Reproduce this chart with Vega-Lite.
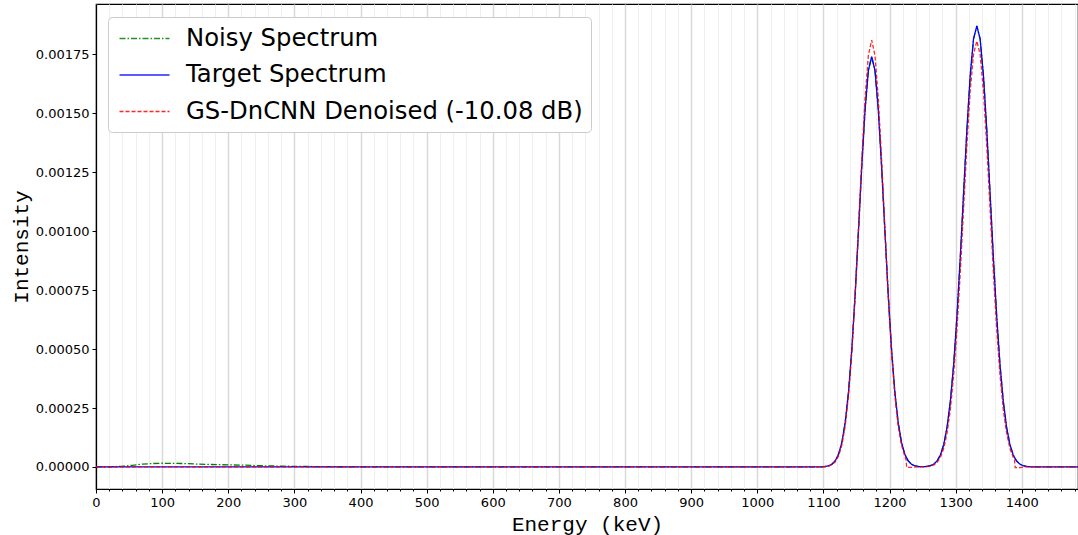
{
  "$schema": "https://vega.github.io/schema/vega-lite/v6.json",
  "width": 982,
  "height": 485,
  "autosize": "none",
  "padding": {"left": 96, "top": 4, "right": 0, "bottom": 46},
  "background": "#ffffff",
  "datasets": {
    "noisy": [
      {"E": 0, "I": 0}, {"E": 20, "I": 0.0000005}, {"E": 40, "I": 0.000003}, {"E": 55, "I": 0.000007},
      {"E": 70, "I": 0.000012}, {"E": 85, "I": 0.0000145}, {"E": 100, "I": 0.0000158}, {"E": 115, "I": 0.0000152},
      {"E": 130, "I": 0.0000148}, {"E": 150, "I": 0.0000125}, {"E": 175, "I": 0.0000105}, {"E": 200, "I": 0.0000088},
      {"E": 225, "I": 0.0000075}, {"E": 250, "I": 0.0000052}, {"E": 275, "I": 0.0000038}, {"E": 300, "I": 0.0000026},
      {"E": 350, "I": 0.0000012}, {"E": 400, "I": 0.0000005}, {"E": 500, "I": 0}, {"E": 1088, "I": 0},
      {"E": 1093, "I": 0.0000002}, {"E": 1098, "I": 0.0000007}, {"E": 1103, "I": 0.000002}, {"E": 1108, "I": 0.000005},
      {"E": 1113, "I": 0.0000119}, {"E": 1118, "I": 0.0000264}, {"E": 1123, "I": 0.0000545}, {"E": 1128, "I": 0.000105},
      {"E": 1133, "I": 0.00019}, {"E": 1138, "I": 0.000319}, {"E": 1143, "I": 0.0005}, {"E": 1148, "I": 0.000732},
      {"E": 1153, "I": 0.001}, {"E": 1158, "I": 0.001274}, {"E": 1163, "I": 0.001515}, {"E": 1168, "I": 0.001681},
      {"E": 1173, "I": 0.00174}, {"E": 1178, "I": 0.001681}, {"E": 1183, "I": 0.001515}, {"E": 1188, "I": 0.001274},
      {"E": 1193, "I": 0.001}, {"E": 1198, "I": 0.000732}, {"E": 1203, "I": 0.0005}, {"E": 1208, "I": 0.000319},
      {"E": 1213, "I": 0.00019}, {"E": 1218, "I": 0.000105}, {"E": 1223, "I": 0.0000545}, {"E": 1228, "I": 0.0000264},
      {"E": 1233, "I": 0.0000119}, {"E": 1238, "I": 0.000005}, {"E": 1243, "I": 0.000002}, {"E": 1248, "I": 0.0000012},
      {"E": 1252, "I": 0.0000011}, {"E": 1257, "I": 0.0000023}, {"E": 1262, "I": 0.0000055}, {"E": 1267, "I": 0.0000123},
      {"E": 1272, "I": 0.0000258}, {"E": 1277, "I": 0.0000511}, {"E": 1282, "I": 0.0000955}, {"E": 1287, "I": 0.000168},
      {"E": 1292, "I": 0.000279}, {"E": 1297, "I": 0.000435}, {"E": 1302, "I": 0.000641}, {"E": 1307, "I": 0.000889},
      {"E": 1312, "I": 0.001162}, {"E": 1317, "I": 0.001431}, {"E": 1322, "I": 0.00166}, {"E": 1327, "I": 0.001815},
      {"E": 1332, "I": 0.00187}, {"E": 1337, "I": 0.001815}, {"E": 1342, "I": 0.00166}, {"E": 1347, "I": 0.001431},
      {"E": 1352, "I": 0.001162}, {"E": 1357, "I": 0.000889}, {"E": 1362, "I": 0.000641}, {"E": 1367, "I": 0.000435},
      {"E": 1372, "I": 0.000279}, {"E": 1377, "I": 0.000168}, {"E": 1382, "I": 0.0000955}, {"E": 1387, "I": 0.0000511},
      {"E": 1392, "I": 0.0000258}, {"E": 1397, "I": 0.0000123}, {"E": 1402, "I": 0.0000055}, {"E": 1407, "I": 0.0000023},
      {"E": 1412, "I": 0.0000009}, {"E": 1420, "I": 0}, {"E": 1485, "I": 0}
    ],
    "target": [
      {"E": 0, "I": 0}, {"E": 500, "I": 0}, {"E": 1088, "I": 0},
      {"E": 1093, "I": 0.0000002}, {"E": 1098, "I": 0.0000007}, {"E": 1103, "I": 0.000002}, {"E": 1108, "I": 0.000005},
      {"E": 1113, "I": 0.0000119}, {"E": 1118, "I": 0.0000264}, {"E": 1123, "I": 0.0000545}, {"E": 1128, "I": 0.000105},
      {"E": 1133, "I": 0.00019}, {"E": 1138, "I": 0.000319}, {"E": 1143, "I": 0.0005}, {"E": 1148, "I": 0.000732},
      {"E": 1153, "I": 0.001}, {"E": 1158, "I": 0.001274}, {"E": 1163, "I": 0.001515}, {"E": 1168, "I": 0.001681},
      {"E": 1173, "I": 0.00174}, {"E": 1178, "I": 0.001681}, {"E": 1183, "I": 0.001515}, {"E": 1188, "I": 0.001274},
      {"E": 1193, "I": 0.001}, {"E": 1198, "I": 0.000732}, {"E": 1203, "I": 0.0005}, {"E": 1208, "I": 0.000319},
      {"E": 1213, "I": 0.00019}, {"E": 1218, "I": 0.000105}, {"E": 1223, "I": 0.0000545}, {"E": 1228, "I": 0.0000264},
      {"E": 1233, "I": 0.0000119}, {"E": 1238, "I": 0.000005}, {"E": 1243, "I": 0.000002}, {"E": 1248, "I": 0.0000012},
      {"E": 1252, "I": 0.0000011}, {"E": 1257, "I": 0.0000023}, {"E": 1262, "I": 0.0000055}, {"E": 1267, "I": 0.0000123},
      {"E": 1272, "I": 0.0000258}, {"E": 1277, "I": 0.0000511}, {"E": 1282, "I": 0.0000955}, {"E": 1287, "I": 0.000168},
      {"E": 1292, "I": 0.000279}, {"E": 1297, "I": 0.000435}, {"E": 1302, "I": 0.000641}, {"E": 1307, "I": 0.000889},
      {"E": 1312, "I": 0.001162}, {"E": 1317, "I": 0.001431}, {"E": 1322, "I": 0.00166}, {"E": 1327, "I": 0.001815},
      {"E": 1332, "I": 0.00187}, {"E": 1337, "I": 0.001815}, {"E": 1342, "I": 0.00166}, {"E": 1347, "I": 0.001431},
      {"E": 1352, "I": 0.001162}, {"E": 1357, "I": 0.000889}, {"E": 1362, "I": 0.000641}, {"E": 1367, "I": 0.000435},
      {"E": 1372, "I": 0.000279}, {"E": 1377, "I": 0.000168}, {"E": 1382, "I": 0.0000955}, {"E": 1387, "I": 0.0000511},
      {"E": 1392, "I": 0.0000258}, {"E": 1397, "I": 0.0000123}, {"E": 1402, "I": 0.0000055}, {"E": 1407, "I": 0.0000023},
      {"E": 1412, "I": 0.0000009}, {"E": 1420, "I": 0}, {"E": 1485, "I": 0}
    ],
    "denoised": [
      {"E": 0, "I": 0}, {"E": 500, "I": 0}, {"E": 1090, "I": 0},
      {"E": 1098, "I": 0.000001}, {"E": 1108, "I": 0.000004}, {"E": 1113, "I": 0.00001}, {"E": 1118, "I": 0.000022},
      {"E": 1123, "I": 0.000047}, {"E": 1128, "I": 0.000094}, {"E": 1133, "I": 0.000175}, {"E": 1138, "I": 0.000302},
      {"E": 1143, "I": 0.000486}, {"E": 1148, "I": 0.000726}, {"E": 1153, "I": 0.001009}, {"E": 1158, "I": 0.001303},
      {"E": 1163, "I": 0.001564}, {"E": 1168, "I": 0.001745}, {"E": 1173, "I": 0.00181}, {"E": 1178, "I": 0.001745},
      {"E": 1183, "I": 0.001564}, {"E": 1188, "I": 0.001303}, {"E": 1193, "I": 0.001009}, {"E": 1198, "I": 0.000726},
      {"E": 1203, "I": 0.000486}, {"E": 1208, "I": 0.000302}, {"E": 1213, "I": 0.000175}, {"E": 1218, "I": 0.000094},
      {"E": 1223, "I": 0.000047}, {"E": 1225, "I": 0.00003}, {"E": 1226, "I": -0.000002}, {"E": 1233, "I": -0.000002},
      {"E": 1240, "I": 0}, {"E": 1255, "I": 0.000001}, {"E": 1262, "I": 0.000004}, {"E": 1267, "I": 0.0000092},
      {"E": 1272, "I": 0.0000201}, {"E": 1277, "I": 0.0000412}, {"E": 1282, "I": 0.0000793}, {"E": 1287, "I": 0.000144},
      {"E": 1292, "I": 0.000244}, {"E": 1297, "I": 0.000391}, {"E": 1302, "I": 0.000586}, {"E": 1307, "I": 0.000827},
      {"E": 1312, "I": 0.001095}, {"E": 1317, "I": 0.001363}, {"E": 1322, "I": 0.001594}, {"E": 1327, "I": 0.00175},
      {"E": 1332, "I": 0.001806}, {"E": 1337, "I": 0.00175}, {"E": 1342, "I": 0.001594}, {"E": 1347, "I": 0.001363},
      {"E": 1352, "I": 0.001095}, {"E": 1357, "I": 0.000827}, {"E": 1362, "I": 0.000586}, {"E": 1367, "I": 0.000391},
      {"E": 1372, "I": 0.000244}, {"E": 1377, "I": 0.000144}, {"E": 1382, "I": 0.0000793}, {"E": 1387, "I": 0.0000412},
      {"E": 1389, "I": 0.00003}, {"E": 1390, "I": -0.000003}, {"E": 1398, "I": -0.000003}, {"E": 1402, "I": 0},
      {"E": 1485, "I": 0}
    ]
  },
  "encoding": {
    "x": {
      "field": "E",
      "type": "quantitative",
      "scale": {"domain": [0, 1485], "nice": false, "zero": false},
      "axis": {
        "title": "Energy (keV)",
        "values": [0, 20, 40, 60, 80, 100, 120, 140, 160, 180, 200, 220, 240, 260, 280, 300, 320, 340, 360, 380, 400, 420, 440, 460, 480, 500, 520, 540, 560, 580, 600, 620, 640, 660, 680, 700, 720, 740, 760, 780, 800, 820, 840, 860, 880, 900, 920, 940, 960, 980, 1000, 1020, 1040, 1060, 1080, 1100, 1120, 1140, 1160, 1180, 1200, 1220, 1240, 1260, 1280, 1300, 1320, 1340, 1360, 1380, 1400, 1420, 1440, 1460, 1480],
        "format": "d",
        "labelExpr": "datum.value % 100 === 0 ? datum.label : ''",
        "labelOverlap": false,
        "labelFlush": false,
        "grid": true,
        "gridColor": {"condition": {"test": "datum.value % 100 === 0", "value": "#d9d9d9"}, "value": "#efefef"},
        "gridWidth": {"condition": {"test": "datum.value % 100 === 0", "value": 1.5}, "value": 1},
        "tickSize": {"condition": {"test": "datum.value % 100 === 0", "value": 4}, "value": 2},
        "labelPadding": 3,
        "titlePadding": 4
      }
    },
    "y": {
      "field": "I",
      "type": "quantitative",
      "scale": {"domain": [-0.0000934, 0.001963], "nice": false, "zero": false},
      "axis": {
        "title": "Intensity",
        "values": [0, 0.00025, 0.0005, 0.00075, 0.001, 0.00125, 0.0015, 0.00175],
        "format": ".5f",
        "grid": false,
        "tickSize": 4,
        "labelPadding": 3,
        "titlePadding": 4
      }
    }
  },
  "layer": [
    {
      "data": {"name": "noisy"},
      "mark": {"type": "line", "strokeWidth": 1.3, "clip": true},
      "encoding": {
        "color": {
          "datum": "Noisy Spectrum",
          "type": "nominal",
          "scale": {"domain": ["Noisy Spectrum", "Target Spectrum", "GS-DnCNN Denoised (-10.08 dB)"], "range": ["#008000", "#0000ff", "#ff0000"]},
          "legend": {"title": null}
        },
        "strokeDash": {
          "datum": "Noisy Spectrum",
          "type": "nominal",
          "scale": {"domain": ["Noisy Spectrum", "Target Spectrum", "GS-DnCNN Denoised (-10.08 dB)"], "range": [[6, 2, 1.5, 2], [1, 0], [4, 2]]},
          "legend": {"title": null}
        }
      }
    },
    {
      "data": {"name": "target"},
      "mark": {"type": "line", "strokeWidth": 1.3, "clip": true},
      "encoding": {
        "color": {"datum": "Target Spectrum", "type": "nominal"},
        "strokeDash": {"datum": "Target Spectrum", "type": "nominal"}
      }
    },
    {
      "data": {"name": "denoised"},
      "mark": {"type": "line", "strokeWidth": 1.3, "clip": true, "opacity": 0.85},
      "encoding": {
        "color": {"datum": "GS-DnCNN Denoised (-10.08 dB)", "type": "nominal"},
        "strokeDash": {"datum": "GS-DnCNN Denoised (-10.08 dB)", "type": "nominal"}
      }
    }
  ],
  "config": {
    "view": {"stroke": "#000000", "strokeWidth": 1.2},
    "axis": {
      "domainColor": "#000000",
      "domainWidth": 1.2,
      "tickColor": "#000000",
      "tickWidth": 1,
      "labelFont": "DejaVu Sans",
      "labelFontSize": 13,
      "labelColor": "#000000",
      "titleFont": "Liberation Mono",
      "titleFontSize": 21,
      "titleFontWeight": "normal",
      "titleColor": "#000000"
    },
    "legend": {
      "orient": "none",
      "legendX": 12,
      "legendY": 13,
      "fillColor": "#ffffff",
      "strokeColor": "#cccccc",
      "cornerRadius": 4,
      "padding": 8,
      "labelFont": "DejaVu Sans",
      "labelFontSize": 24.3,
      "labelColor": "#000000",
      "labelLimit": 600,
      "labelOffset": 43,
      "symbolType": "M-0.8,0H3.2",
      "symbolSize": 625,
      "symbolStrokeWidth": 1.3,
      "rowPadding": 10.5
    }
  }
}
